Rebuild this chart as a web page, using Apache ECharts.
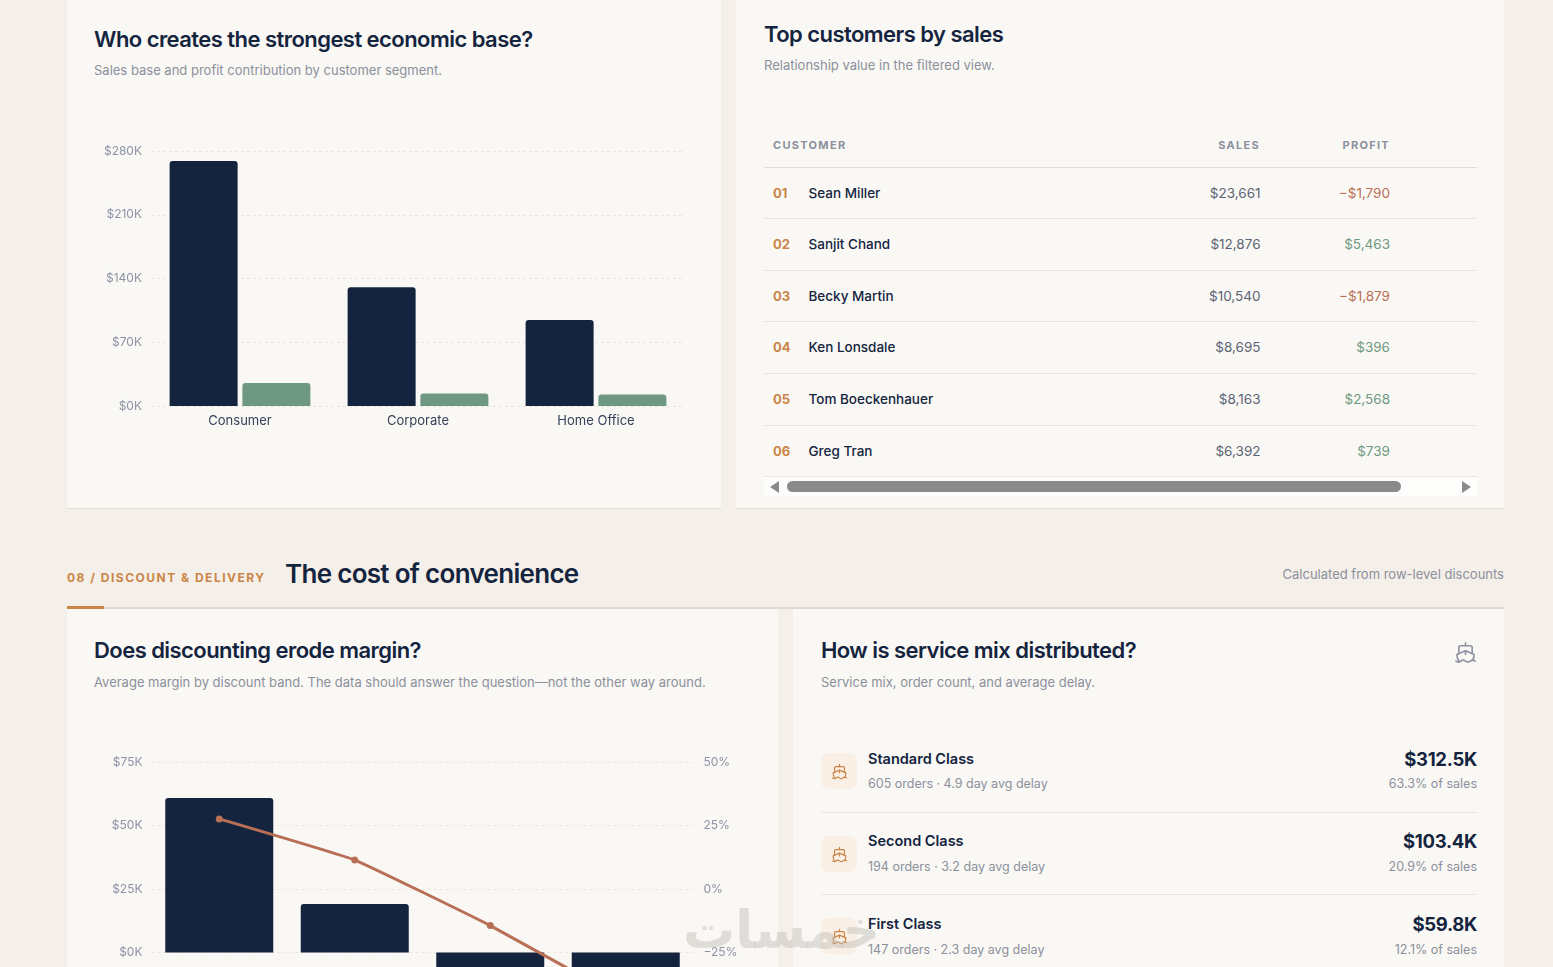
<!DOCTYPE html>
<html><head><meta charset="utf-8">
<script src="https://cdn.jsdelivr.net/npm/echarts@6/dist/echarts.min.js"></script>
<style>
html,body{margin:0;padding:0;width:1553px;height:967px;overflow:hidden;background:#f4efe8;font-family:Inter,"Noto Sans",sans-serif}
#page{position:relative;width:1553px;height:967px;overflow:hidden}
.card{position:absolute;background:#faf8f4;border-bottom:1px solid #e6dfd3;box-sizing:border-box}
.t{position:absolute;white-space:nowrap;line-height:20px}
.line{position:absolute;height:1px;background:#ebe4da}
.chart{position:absolute}
.ico{position:absolute;border-radius:8px;background:#f9efe4}
svg{position:absolute;fill:none;stroke-linecap:round;stroke-linejoin:round}
</style></head><body><div id="page"></div>
<script>
// Segment chart
const segments = ["Consumer", "Corporate", "Home Office"];
const segmentSales = [269000, 130500, 94500];
const segmentProfit = [25300, 13700, 12700];
// Discount chart
const discountBands = ["No discount", "1–10%", "11–20%", "20%+"];
const discountSales = [60800, 19100, -11000, -14000];
const discountMargin = [27.6, 11.4, -14.4, -44];
// Customer table
const customerRanks = ["01", "02", "03", "04", "05", "06"];
const customerNames = ["Sean Miller", "Sanjit Chand", "Becky Martin", "Ken Lonsdale", "Tom Boeckenhauer", "Greg Tran"];
const customerSales = ["$23,661", "$12,876", "$10,540", "$8,695", "$8,163", "$6,392"];
const customerProfit = ["−$1,790", "$5,463", "−$1,879", "$396", "$2,568", "$739"];
// Service mix
const serviceNames = ["Standard Class", "Second Class", "First Class"];
const serviceDetails = ["605 orders · 4.9 day avg delay", "194 orders · 3.2 day avg delay", "147 orders · 2.3 day avg delay"];
const serviceSales = ["$312.5K", "$103.4K", "$59.8K"];
const serviceShare = ["63.3% of sales", "20.9% of sales", "12.1% of sales"];

const NAVY = "#14243f", GREEN = "#6f9882", RUST = "#b96f55", ORANGE = "#cb8547", GREY = "#8b909c";
const page = document.getElementById("page");
function box(cls, x, y, w, h, css) {
  const d = document.createElement("div");
  d.className = cls;
  d.style.cssText = `left:${x}px;top:${y}px;width:${w}px;height:${h}px;` + (css || "");
  page.appendChild(d);
  return d;
}
// x is the left edge, or the right edge with align "r"; y is the vertical centre
function text(str, x, y, css, align) {
  const d = document.createElement("div");
  d.className = "t";
  d.textContent = str;
  d.style.cssText = `top:${y - 10}px;` + (align === "r" ? `right:${1553 - x}px;` : `left:${x}px;`) + (css || "");
  page.appendChild(d);
  return d;
}
function ship(x, y, size, color, sw) {
  const s = document.createElementNS("http://www.w3.org/2000/svg", "svg");
  s.setAttribute("viewBox", "0 0 24 24");
  s.setAttribute("width", size); s.setAttribute("height", size);
  s.style.cssText = `left:${x - size / 2}px;top:${y - size / 2}px;stroke:${color};stroke-width:${sw}`;
  s.innerHTML = '<path d="M12 10.189V14"/><path d="M12 2v3"/><path d="M19 13V7a2 2 0 0 0-2-2H7a2 2 0 0 0-2 2v6"/><path d="M19.38 20A11.6 11.6 0 0 0 21 14l-8.188-3.639a2 2 0 0 0-1.624 0L3 14a11.6 11.6 0 0 0 2.81 7.76"/><path d="M2 21c.6.5 1.2 1 2.5 1 2.5 0 2.5-2 5-2 1.3 0 1.9.5 2.5 1s1.2 1 2.5 1c2.5 0 2.5-2 5-2 1.3 0 1.9.5 2.5 1"/>';
  page.appendChild(s);
}
const H2 = `font-size:22px;font-weight:600;color:${NAVY};letter-spacing:-.55px;`;
const SUB = `font-size:13px;color:${GREY};`;

// Cards
box("card", 67, -2, 654, 511);
box("card", 736, -2, 768, 511);
box("card", 67, 609, 711, 400);
box("card", 793, 609, 711, 400);

// Card headings
text("Who creates the strongest economic base?", 94, 39, H2);
text("Sales base and profit contribution by customer segment.", 94, 70, SUB);
text("Top customers by sales", 764, 34, H2);
text("Relationship value in the filtered view.", 764, 65, SUB);
text("Does discounting erode margin?", 94, 650, H2);
text("Average margin by discount band. The data should answer the question—not the other way around.", 94, 682, SUB);
text("How is service mix distributed?", 821, 650, H2);
text("Service mix, order count, and average delay.", 821, 682, SUB);
ship(1465, 652, 23, "#8d93a3", 1.7);

// Section heading
box("line", 67, 607, 1437, 2, "background:#e3dace;");
box("line", 67, 606, 37, 3, `background:${ORANGE};`);
text("08 / DISCOUNT & DELIVERY", 67, 578, `font-size:12px;font-weight:700;color:${ORANGE};letter-spacing:1.5px;`);
text("The cost of convenience", 285, 574, `font-size:26px;font-weight:600;color:${NAVY};letter-spacing:-.7px;`);
text("Calculated from row-level discounts", 1504, 574, `font-size:13px;color:${GREY};`, "r");

// Table
const TH = `font-size:11px;font-weight:700;color:${GREY};letter-spacing:1.3px;`;
text("CUSTOMER", 773, 145, TH);
text("SALES", 1260, 145, TH, "r");
text("PROFIT", 1390, 145, TH, "r");
const rowY = [193, 244, 296, 347, 399, 451], rowLine = [218, 270, 321, 373, 425, 476];
box("line", 764, 167, 713, 1, "background:#e3dcd1;");
customerNames.forEach((name, i) => {
  box("line", 764, rowLine[i], 713, 1);
  text(customerRanks[i], 773, rowY[i], `font-size:13px;font-weight:700;color:${ORANGE};`);
  text(name, 808.5, rowY[i], `font-size:13.5px;font-weight:500;color:${NAVY};`);
  text(customerSales[i], 1260.5, rowY[i], "font-size:13.5px;color:#5b6475;", "r");
  const neg = customerProfit[i].startsWith("−");
  text(customerProfit[i], 1390, rowY[i], `font-size:13.5px;color:${neg ? RUST : GREEN};`, "r");
});
// Table scrollbar
box("line", 764, 477, 713, 19, "background:#fdfdfc;");
box("line", 787, 481, 614, 11, "background:#8a8a8a;border-radius:6px;");
box("line", 770, 481, 0, 0, "background:none;height:0;border-top:6px solid transparent;border-bottom:6px solid transparent;border-right:9px solid #8a8a8a;");
box("line", 1462, 481, 0, 0, "background:none;height:0;border-top:6px solid transparent;border-bottom:6px solid transparent;border-left:9px solid #8a8a8a;");

// Service rows
const svcName = [759, 841, 924], svcSub = [784, 867, 950], svcIcon = [771, 854, 936], svcLine = [812, 894];
serviceNames.forEach((name, i) => {
  box("ico", 821, svcIcon[i] - 18, 36, 36);
  ship(839, svcIcon[i], 17, ORANGE, 1.7);
  text(name, 868, svcName[i], `font-size:14.5px;font-weight:600;color:${NAVY};`);
  text(serviceDetails[i], 868, svcSub[i], `font-size:12.5px;color:${GREY};`);
  text(serviceSales[i], 1477, svcName[i], `font-size:18.5px;font-weight:700;color:${NAVY};letter-spacing:-.3px;`, "r");
  text(serviceShare[i], 1477, svcSub[i], `font-size:12.5px;color:${GREY};`, "r");
  if (i < 2) box("line", 821, svcLine[i], 656, 1);
});

// Charts
const axisText = { color: "#8b93a5", fontSize: 12, fontFamily: "Inter" };
const dashed = { show: true, lineStyle: { color: "#ece6dc", type: [3, 3], width: 1 } };
const kFmt = v => "$" + (v / 1000) + "K";
const chart1 = echarts.init(box("chart", 67, 100, 654, 400), null, { renderer: "canvas" });
chart1.setOption({
  animation: false,
  grid: { left: 84, width: 534, top: 51, height: 255 },
  xAxis: { type: "category", data: segments, axisLine: { show: false }, axisTick: { show: false },
    axisLabel: { color: "#36425a", fontSize: 13, fontFamily: "Inter", margin: 9 } },
  yAxis: { type: "value", min: 0, max: 280000, interval: 70000, axisLabel: { ...axisText, margin: 9, formatter: kFmt }, splitLine: dashed },
  series: [
    { type: "bar", data: segmentSales, barWidth: 68, barGap: "7%", itemStyle: { color: NAVY, borderRadius: [3, 3, 0, 0] } },
    { type: "bar", data: segmentProfit, barWidth: 68, itemStyle: { color: GREEN, borderRadius: [3, 3, 0, 0] } }
  ]
});
const chart2 = echarts.init(box("chart", 67, 720, 711, 340), null, { renderer: "canvas" });
chart2.setOption({
  animation: false,
  grid: { left: 84.5, width: 542, top: 42, height: 254 },
  xAxis: { type: "category", data: discountBands, axisLine: { show: false }, axisTick: { show: false },
    axisLabel: { color: "#36425a", fontSize: 13, fontFamily: "Inter" } },
  yAxis: [
    { type: "value", min: -25000, max: 75000, interval: 25000, axisLabel: { ...axisText, margin: 9, formatter: v => (v < 0 ? "−$" + (-v / 1000) + "K" : kFmt(v)) }, splitLine: dashed },
    { type: "value", min: -50, max: 50, interval: 25, position: "right", axisLabel: { ...axisText, margin: 10, formatter: v => (v < 0 ? "−" + (-v) : v) + "%" }, splitLine: { show: false } }
  ],
  series: [
    { type: "bar", data: discountSales.map(v => ({ value: v, itemStyle: { borderRadius: v < 0 ? [0, 0, 3, 3] : [3, 3, 0, 0] } })), barWidth: 108, itemStyle: { color: NAVY } },
    { type: "line", yAxisIndex: 1, data: discountMargin, smooth: 0.1, symbol: "circle", symbolSize: 7, lineStyle: { color: RUST, width: 3 }, itemStyle: { color: RUST } }
  ]
});

// Watermark
text("خمسات", 683, 930, "font-family:'DejaVu Sans';font-size:52px;line-height:20px;color:rgba(190,188,182,.45);font-weight:700;");
</script></body></html>
